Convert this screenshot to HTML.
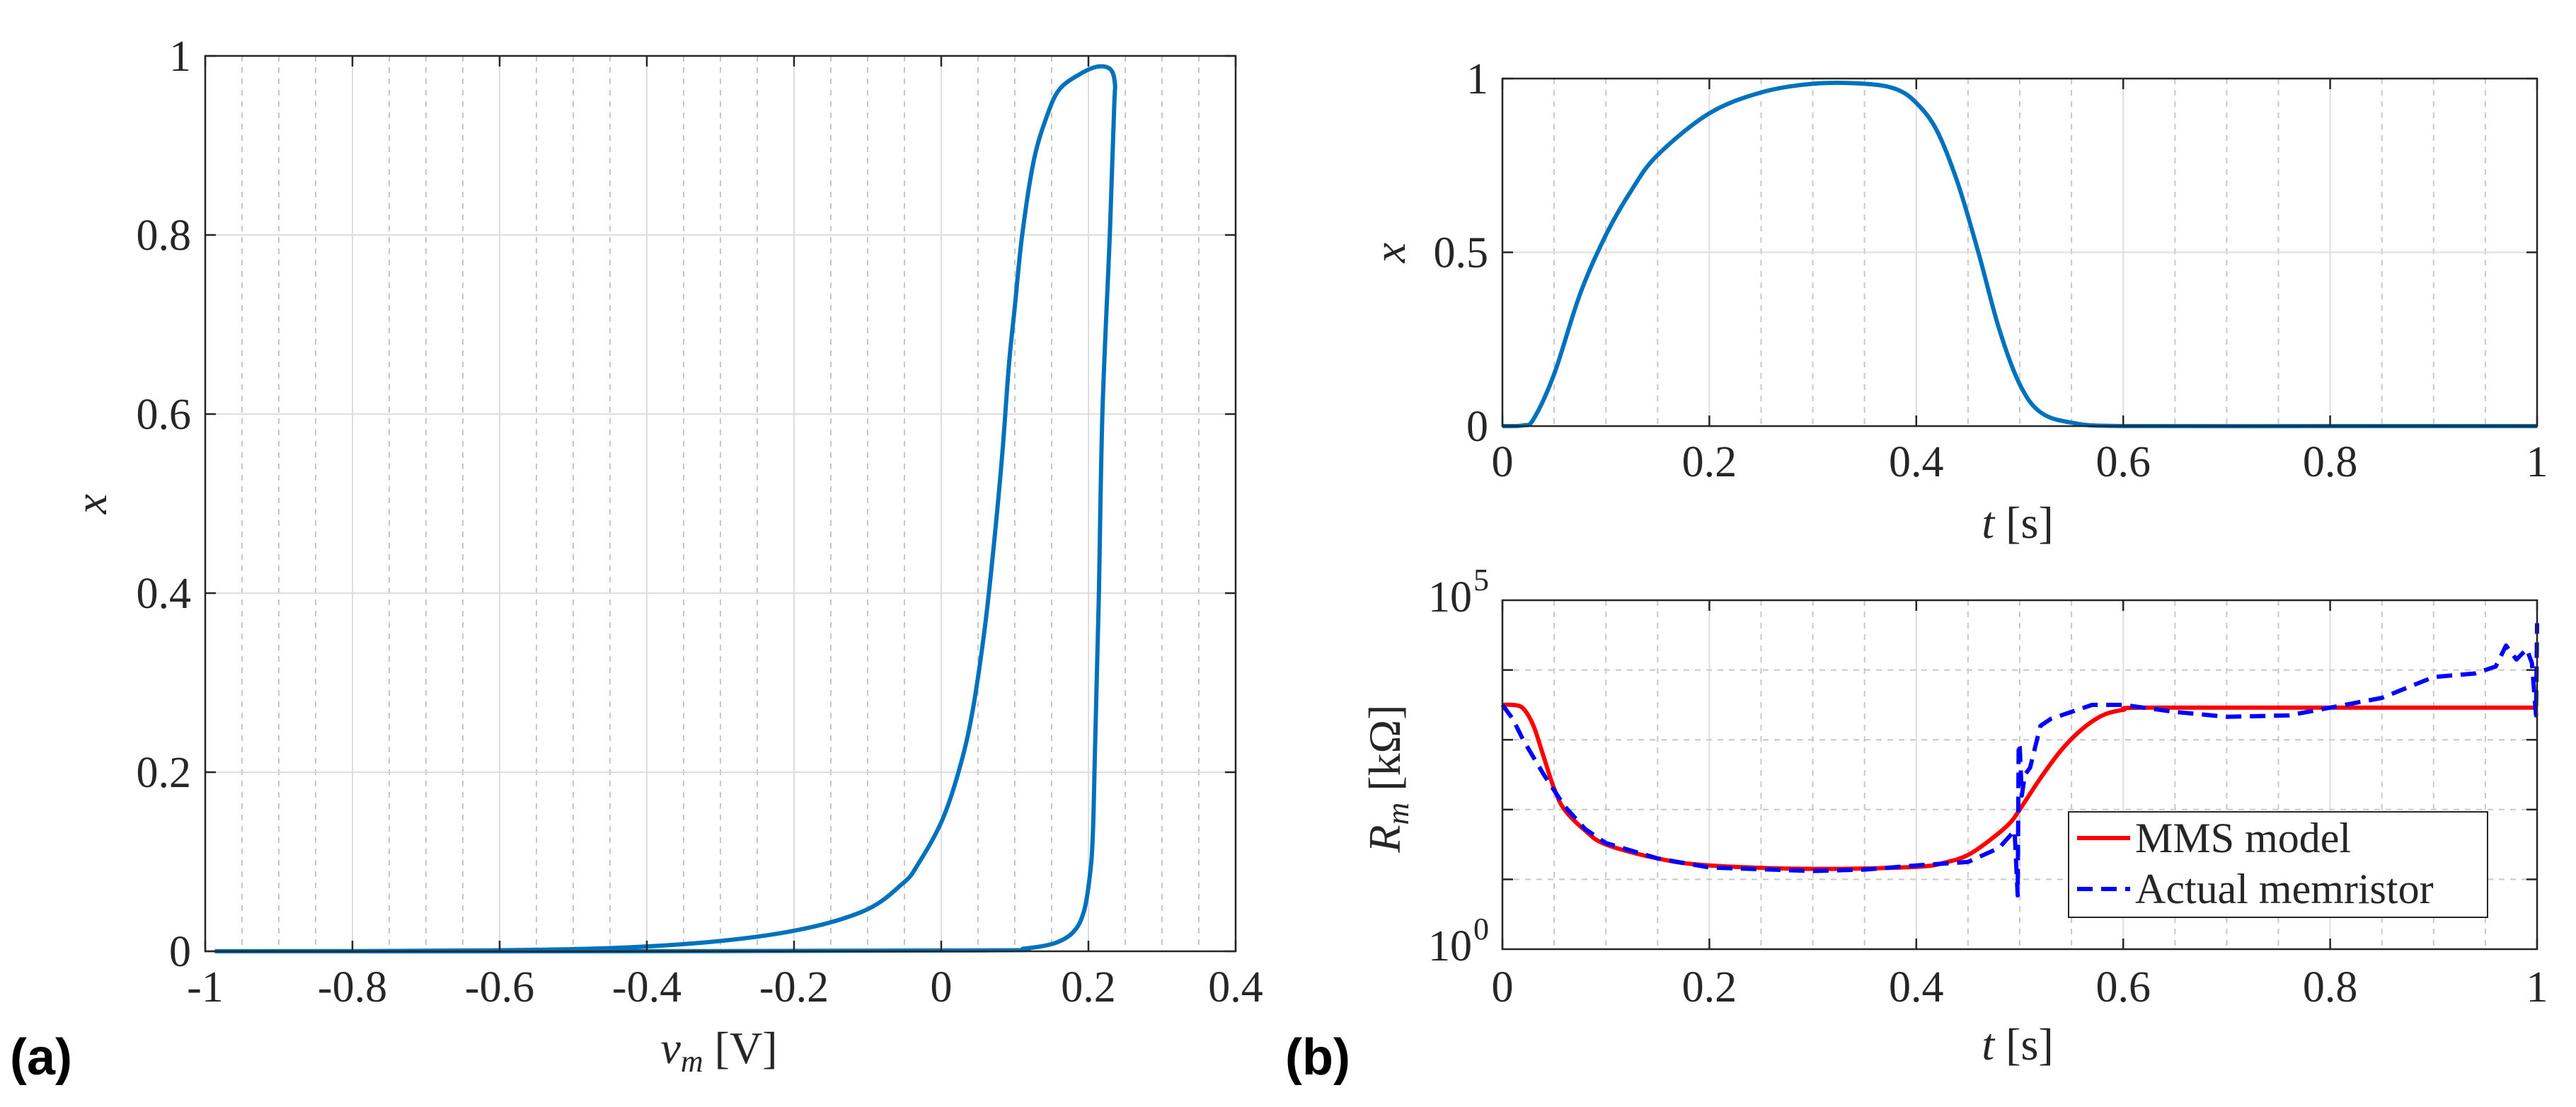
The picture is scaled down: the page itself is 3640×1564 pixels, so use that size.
<!DOCTYPE html>
<html><head><meta charset="utf-8">
<style>
html,body{margin:0;padding:0;background:#fff;}
svg{display:block;}
text{font-family:"Liberation Serif",serif;fill:#262626;}
.lbl{font-family:"Liberation Sans",sans-serif;font-weight:bold;fill:#000;}
</style></head>
<body>
<svg id="fig" width="3640" height="1564" viewBox="0 0 3640 1564" xmlns="http://www.w3.org/2000/svg">
<g id="pa"></g>
<g id="pb1"></g>
<g id="pb2"></g>
<text class="lbl" x="14" y="1518" font-size="72">(a)</text>
<text class="lbl" x="1816" y="1518" font-size="72">(b)</text>
</svg>
<script>
// ---- Panel (a) data: hysteresis loop (v_m, x) ----
const loopV = [-0.987,-0.61,-0.387,-0.22,-0.108,-0.052,-0.031,0,0.022,0.041,0.059,0.072,0.083,0.092,0.1,0.11,0.126,0.145,0.161,0.187,0.212,0.23,0.236,0.235,0.229,0.219,0.214,0.209,0.206,0.202,0.194,0.18,0.154,0.113,0.06,-0.5,-0.987];
const loopX = [0,0.001,0.006,0.02,0.044,0.076,0.098,0.144,0.196,0.261,0.36,0.458,0.556,0.655,0.72,0.8,0.884,0.936,0.963,0.979,0.988,0.985,0.969,0.943,0.8,0.602,0.393,0.229,0.13,0.085,0.045,0.022,0.009,0.003,0.001,0,0];
const aXTicks = [-1,-0.8,-0.6,-0.4,-0.2,0,0.2,0.4];
const aXTickLabels = ["-1","-0.8","-0.6","-0.4","-0.2","0","0.2","0.4"];
const aYTicks = [0,0.2,0.4,0.6,0.8,1];
const aYTickLabels = ["0","0.2","0.4","0.6","0.8","1"];
// ---- Panel (b) top: x(t) ----
const stateT = [0,0.02,0.03,0.05,0.075,0.1,0.125,0.15,0.2,0.25,0.3,0.35,0.38,0.4,0.42,0.44,0.46,0.48,0.5,0.52,0.55,0.6,0.8,1];
const stateX = [0,0.002,0.02,0.15,0.38,0.55,0.68,0.78,0.9,0.96,0.985,0.985,0.97,0.93,0.85,0.7,0.5,0.28,0.12,0.04,0.01,0,0,0];
const tTicks = [0,0.2,0.4,0.6,0.8,1];
const tTickLabels = ["0","0.2","0.4","0.6","0.8","1"];
const b1YTicks = [0,0.5,1];
const b1YTickLabels = ["0","0.5","1"];
// ---- Panel (b) bottom: R_m (log10 of kΩ) ----
const mmsT = [0,0.01,0.02,0.03,0.04,0.05,0.06,0.08,0.1,0.15,0.2,0.3,0.4,0.43,0.45,0.47,0.49,0.5,0.52,0.54,0.56,0.58,0.6,0.62,0.8,1];
const mmsLogR = [3.5,3.5,3.45,3.2,2.75,2.3,2.0,1.7,1.5,1.3,1.2,1.15,1.18,1.25,1.35,1.55,1.8,2.0,2.45,2.85,3.15,3.35,3.43,3.46,3.46,3.46];
const actT = [0,0.01,0.02,0.04,0.06,0.08,0.1,0.15,0.2,0.3,0.35,0.4,0.45,0.48,0.495,0.498,0.499,0.5,0.502,0.505,0.51,0.52,0.53,0.57,0.6,0.65,0.7,0.76,0.8,0.85,0.9,0.94,0.96,0.97,0.98,0.99,0.995,0.999,1.0];
const actLogR = [3.5,3.3,3.0,2.5,2.05,1.72,1.52,1.3,1.17,1.12,1.14,1.2,1.25,1.45,1.7,0.77,2.95,2.9,2.2,2.5,2.6,3.2,3.3,3.5,3.5,3.4,3.33,3.35,3.46,3.6,3.9,3.95,4.05,4.35,4.15,4.3,4.1,3.35,4.67];
const rTicks = [0,5];
const rTickLabels = ["0","5"];

const NS="http://www.w3.org/2000/svg";
function mk(parent,tag,attrs){const e=document.createElementNS(NS,tag);for(const k in attrs)e.setAttribute(k,attrs[k]);parent.appendChild(e);return e;}
function lin(d0,d1,p0,p1){return v=>p0+(v-d0)/(d1-d0)*(p1-p0);}
function pathFrom(xs,ys,sx,sy){let d="";for(let i=0;i<xs.length;i++){d+=(i?"L":"M")+sx(xs[i]).toFixed(1)+","+sy(ys[i]).toFixed(1);}return d;}
function smoothFrom(xs,ys,sx,sy){
  const P=xs.map((x,i)=>[sx(x),sy(ys[i])]);
  let d="M"+P[0][0].toFixed(1)+","+P[0][1].toFixed(1);
  for(let i=0;i<P.length-1;i++){
    const p0=P[Math.max(0,i-1)],p1=P[i],p2=P[i+1],p3=P[Math.min(P.length-1,i+2)];
    const c1=[p1[0]+(p2[0]-p0[0])/6,p1[1]+(p2[1]-p0[1])/6];
    const c2=[p2[0]-(p3[0]-p1[0])/6,p2[1]-(p3[1]-p1[1])/6];
    d+="C"+c1[0].toFixed(1)+","+c1[1].toFixed(1)+" "+c2[0].toFixed(1)+","+c2[1].toFixed(1)+" "+p2[0].toFixed(1)+","+p2[1].toFixed(1);
  }
  return d;
}

function frame(g,L,T,R,B){
  const r=mk(g,"rect",{x:L,y:T,width:R-L,height:B-T,fill:"none",stroke:"#262626","stroke-width":2.5});
  
  
}
function gridV(g,sx,vals,T,B,dash){vals.forEach(v=>{const l=mk(g,"line",{x1:sx(v),x2:sx(v),y1:T,y2:B,stroke:dash?"#c8c8c8":"#dedede","stroke-width":2,"stroke-dasharray":dash?"8,8":"none"});
  
  });}
function gridH(g,sy,vals,L,R,dash){vals.forEach(v=>{const l=mk(g,"line",{x1:L,x2:R,y1:sy(v),y2:sy(v),stroke:dash?"#c8c8c8":"#dedede","stroke-width":2,"stroke-dasharray":dash?"8,8":"none"});
  
  });}
function ticksX(g,sx,vals,labels,T,B,ly){vals.forEach((v,i)=>{
  mk(g,"line",{x1:sx(v),x2:sx(v),y1:B,y2:B-15,stroke:"#262626","stroke-width":2.5});
  mk(g,"line",{x1:sx(v),x2:sx(v),y1:T,y2:T+15,stroke:"#262626","stroke-width":2.5});
  const t=mk(g,"text",{x:sx(v),y:ly,"font-size":62,"text-anchor":"middle"});t.textContent=labels[i];
  
  });}
function ticksY(g,sy,vals,labels,L,R,lx){vals.forEach((v,i)=>{
  mk(g,"line",{x1:L,x2:L+15,y1:sy(v),y2:sy(v),stroke:"#262626","stroke-width":2.5});
  mk(g,"line",{x1:R,x2:R-15,y1:sy(v),y2:sy(v),stroke:"#262626","stroke-width":2.5});
  const t=mk(g,"text",{x:lx,y:sy(v)+21,"font-size":62,"text-anchor":"end"});t.textContent=labels[i];
  
  });}
function range(a,b,s){const r=[];for(let v=a;v<=b+1e-9;v+=s)r.push(+v.toFixed(4));return r;}

// Panel (a)
(function(){
  const g=document.getElementById('pa');const L=290,R=1746,T=79,B=1344;
  const sx=lin(-1,0.4,L,R),sy=lin(0,1,B,T);
  gridV(g,sx,range(-1,0.4,0.05).filter(v=>Math.abs(v*5-Math.round(v*5))>1e-6),T,B,true);
  gridV(g,sx,aXTicks,T,B,false);gridH(g,sy,aYTicks,L,R,false);
  const p=mk(g,"path",{d:smoothFrom(loopV,loopX,sx,sy),fill:"none",stroke:"#0072BD","stroke-width":6,"stroke-linejoin":"round"});
  
  
  frame(g,L,T,R,B);
  ticksX(g,sx,aXTicks,aXTickLabels,T,B,1415);
  ticksY(g,sy,aYTicks,aYTickLabels,L,R,270);
  const xl=mk(g,"text",{x:1016,y:1502,"font-size":64,"text-anchor":"middle"});
  xl.innerHTML='<tspan font-style="italic">v</tspan><tspan font-style="italic" font-size="44" dy="12">m</tspan><tspan dy="-12"> [V]</tspan>';
  
  
  const yl=mk(g,"text",{x:150,y:712,"font-size":64,"font-style":"italic","text-anchor":"middle",transform:"rotate(-90 150 712)"});yl.textContent="x";
  
  
})();

// Panel (b) top
(function(){
  const g=document.getElementById('pb1');const L=2123,R=3585,T=111,B=602;
  const sx=lin(0,1,L,R),sy=lin(0,1,B,T);
  gridV(g,sx,range(0,1,0.05).filter(v=>Math.abs(v*5-Math.round(v*5))>1e-6),T,B,true);
  gridV(g,sx,tTicks,T,B,false);gridH(g,sy,b1YTicks,L,R,false);
  const p=mk(g,"path",{d:smoothFrom(stateT,stateX,sx,sy),fill:"none",stroke:"#0072BD","stroke-width":6,"stroke-linejoin":"round"});
  
  
  frame(g,L,T,R,B);
  ticksX(g,sx,tTicks,tTickLabels,T,B,673);
  ticksY(g,sy,b1YTicks,b1YTickLabels,L,R,2103);
  const xl=mk(g,"text",{x:2851,y:760,"font-size":64,"text-anchor":"middle"});
  xl.innerHTML='<tspan font-style="italic">t</tspan> [s]';
  
  
  const yl=mk(g,"text",{x:1985,y:357,"font-size":64,"font-style":"italic","text-anchor":"middle",transform:"rotate(-90 1985 357)"});yl.textContent="x";
  
  
})();

// Panel (b) bottom
(function(){
  const g=document.getElementById('pb2');const L=2123,R=3585,T=848,B=1341;
  const sx=lin(0,1,L,R),sy=lin(0,5,B,T);
  gridV(g,sx,range(0,1,0.05).filter(v=>Math.abs(v*5-Math.round(v*5))>1e-6),T,B,true);
  gridV(g,sx,tTicks,T,B,false);gridH(g,sy,[1,2,3,4],L,R,true);
  [1,2,3,4].forEach(v=>{mk(g,"line",{x1:L,x2:L+15,y1:sy(v),y2:sy(v),stroke:"#262626","stroke-width":2.5});mk(g,"line",{x1:R,x2:R-15,y1:sy(v),y2:sy(v),stroke:"#262626","stroke-width":2.5});});
  const p1=mk(g,"path",{d:smoothFrom(mmsT,mmsLogR,sx,sy),fill:"none",stroke:"#ff0000","stroke-width":6,"stroke-linejoin":"round"});
  
  
  const p2=mk(g,"path",{d:pathFrom(actT,actLogR,sx,sy),fill:"none",stroke:"#0000ff","stroke-width":6,"stroke-dasharray":"22,12","stroke-linejoin":"round"});
  
  
  frame(g,L,T,R,B);
  tTicks.forEach((v,i)=>{mk(g,"line",{x1:sx(v),x2:sx(v),y1:B,y2:B-15,stroke:"#262626","stroke-width":2.5});mk(g,"line",{x1:sx(v),x2:sx(v),y1:T,y2:T+15,stroke:"#262626","stroke-width":2.5});
    const t=mk(g,"text",{x:sx(v),y:1415,"font-size":62,"text-anchor":"middle"});t.textContent=tTickLabels[i];
    
    });
  rTicks.forEach((v,i)=>{const t=mk(g,"text",{x:2080,y:sy(v)+16,"font-size":62,"text-anchor":"end"});t.textContent="10";
    
    
    const s=mk(g,"text",{x:2082,y:sy(v)-14,"font-size":44});s.textContent=rTickLabels[i];
    
    });
  const xl=mk(g,"text",{x:2851,y:1497,"font-size":64,"text-anchor":"middle"});
  xl.innerHTML='<tspan font-style="italic">t</tspan> [s]';
  
  
  const yl=mk(g,"text",{x:1978,y:1100,"font-size":64,"text-anchor":"middle",transform:"rotate(-90 1978 1100)"});
  yl.innerHTML='<tspan font-style="italic">R</tspan><tspan font-style="italic" font-size="44" dy="12">m</tspan><tspan dy="-12">  [kΩ]</tspan>';
  
  
  // legend
  const lg=mk(g,"g",{});
  
  
  mk(lg,"rect",{x:2923,y:1147,width:592,height:149,fill:"#fff",stroke:"#262626","stroke-width":2});
  const e1=mk(lg,"g",{});
  
  
  mk(e1,"line",{x1:2935,x2:3010,y1:1184,y2:1184,stroke:"#ff0000","stroke-width":6});
  const t1=mk(e1,"text",{x:3017,y:1204,"font-size":60,fill:"#000"});t1.textContent="MMS model";
  const e2=mk(lg,"g",{});
  
  
  mk(e2,"line",{x1:2935,x2:3010,y1:1256,y2:1256,stroke:"#0000ff","stroke-width":6,"stroke-dasharray":"22,12"});
  const t2=mk(e2,"text",{x:3017,y:1276,"font-size":60,fill:"#000"});t2.textContent="Actual memristor";
})();
</script>
</body></html>
